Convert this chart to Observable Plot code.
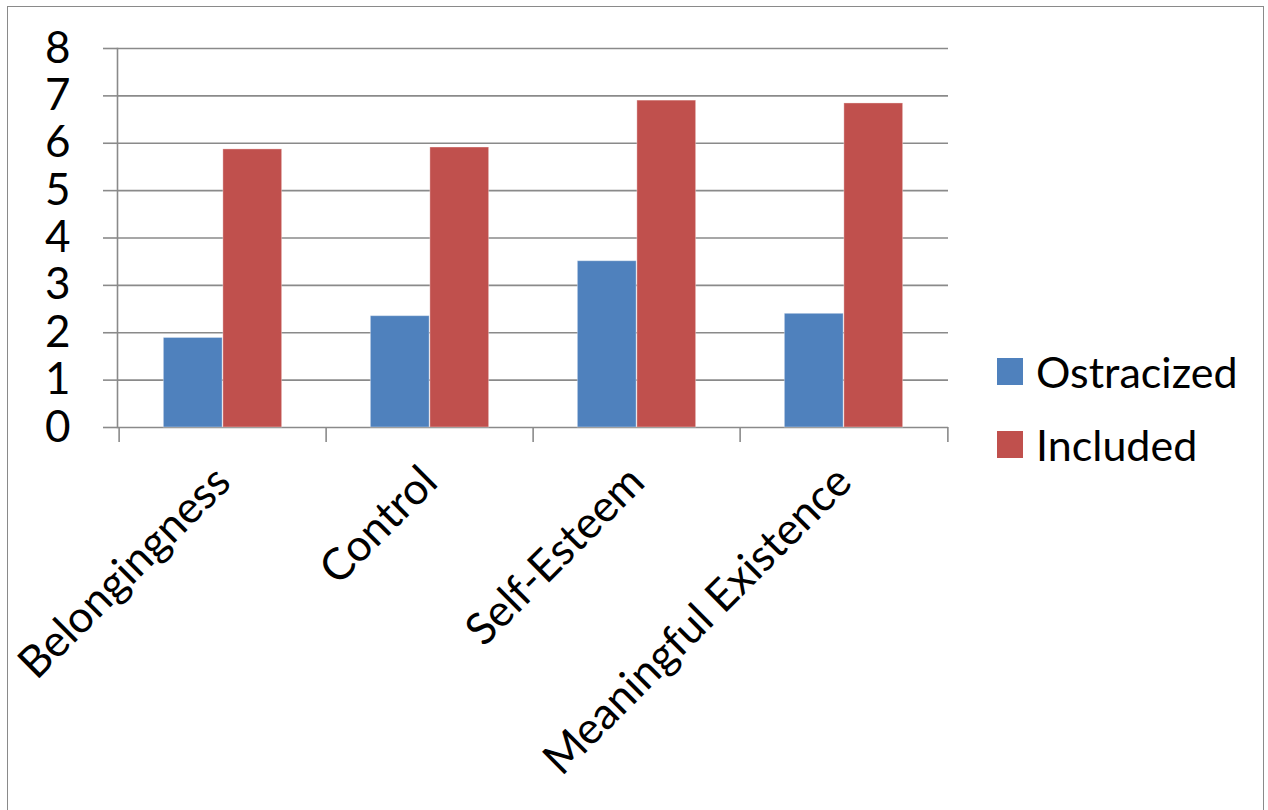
<!DOCTYPE html>
<html><head><meta charset="utf-8">
<script src="https://cdn.jsdelivr.net/npm/d3@7"></script>
<script src="https://cdn.jsdelivr.net/npm/@observablehq/plot@0.6"></script>
<style>
body{margin:0;background:#fff;font-family:Lato,"Open Sans",sans-serif;}
#wrap{position:relative;width:1268px;height:810px;overflow:hidden;background:#fff}
#border{position:absolute;left:7px;top:6px;width:1257px;height:900px;border:1.5px solid #8a8a8a;box-sizing:border-box}
#chart{position:absolute;left:0;top:0}
#legend{position:absolute;left:997px;top:335px;font-size:43px;color:#000;line-height:72px}
#legend .item{display:flex;align-items:center;height:73px}
#legend .sw{width:26px;height:27px;margin-right:13px}
</style>
</head><body>
<div id="wrap"><div id="border"></div><div id="chart"></div><div id="legend"></div></div>
<script>
const categories = ["Belongingness", "Control", "Self-Esteem", "Meaningful Existence"];
const series = ["Ostracized", "Included"];
const ostracized = [1.89, 2.35, 3.51, 2.40];
const included = [5.87, 5.91, 6.90, 6.84];
const colors = ["#4F81BD", "#C0504D"];
const yTicks = [0, 1, 2, 3, 4, 5, 6, 7, 8];

const data = categories.flatMap((c, i) => [
  {category: c, series: series[0], value: ostracized[i]},
  {category: c, series: series[1], value: included[i]}
]);

const W = 1268, H = 810, ML = 117, MR = 320, MT = 48, MB = 383;
const bw = (W - ML - MR) / categories.length;
const barW = bw * 0.2865;
const pad = (bw - 2 * barW) / 2;
const gridColor = "#8a8a8a";
const font = "Lato, 'Open Sans', sans-serif";

const chart = Plot.plot({
  width: W, height: H,
  marginLeft: ML, marginRight: MR, marginTop: MT, marginBottom: MB,
  style: {fontFamily: font, background: "transparent", color: "#000"},
  x: {type: "band", domain: categories, padding: 0},
  y: {domain: [0, 8]},
  color: {domain: series, range: colors},
  marks: [
    Plot.ruleY(yTicks, {stroke: gridColor, strokeWidth: 1.6}),
    Plot.frame({anchor: "left", stroke: gridColor, strokeWidth: 1.6}),
    Plot.axisY({ticks: yTicks, tickSize: 14, tickPadding: 33, fontSize: 44, stroke: gridColor, strokeWidth: 1.6, fill: "#000", tickFormat: d => String(d), label: null}),
    Plot.axisX({ticks: categories, tickSize: 15, dx: -bw / 2, stroke: gridColor, strokeWidth: 1.6, text: null, label: null}),
    Plot.axisX({ticks: [categories[categories.length - 1]], tickSize: 15, dx: bw / 2, stroke: gridColor, strokeWidth: 1.6, text: null, label: null}),
    Plot.axisX({ticks: categories, tickSize: 0, tickPadding: 47, tickRotate: -45, fontSize: 44, fill: "#000", label: null}),
    Plot.barY(data.filter(d => d.series === series[0]), {x: "category", y: "value", fill: "series", insetLeft: pad, insetRight: bw - pad - barW, stroke: "#fff", strokeOpacity: 0.35, strokeWidth: 1}),
    Plot.barY(data.filter(d => d.series === series[1]), {x: "category", y: "value", fill: "series", insetLeft: pad + barW, insetRight: pad, stroke: "#fff", strokeOpacity: 0.35, strokeWidth: 1})
  ]
});
document.getElementById("chart").appendChild(chart);

const legend = document.getElementById("legend");
series.forEach((s, i) => {
  const it = document.createElement("div");
  it.className = "item";
  const sw = document.createElement("span");
  sw.className = "sw";
  sw.style.background = colors[i];
  const t = document.createElement("span");
  t.textContent = s;
  it.appendChild(sw); it.appendChild(t);
  legend.appendChild(it);
});
</script>
</body></html>
